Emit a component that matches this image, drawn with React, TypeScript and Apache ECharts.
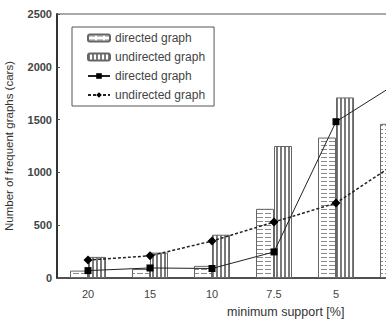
import React, { useEffect, useRef } from "react";
import * as echarts from "echarts";

const categories = ["20", "15", "10", "7.5", "5", "2.5"];
const directedBars = [70, 85, 115, 655, 1330, 1460];
const undirectedBars = [200, 240, 410, 1250, 1710, null];
const directedLine = [70, 95, 90, 247, 1480, 1850];
const undirectedLine = [170, 210, 350, 530, 710, 1100];
const yMin = 0;
const yMax = 2500;
const yStep = 500;
const xAxisTitle = "minimum support [%]";
const yAxisTitle = "Number of frequent graphs (cars)";
const visibleLabels = 5;

function makePattern(kind: "h" | "v") {
  const c = document.createElement("canvas");
  const ctx = c.getContext("2d")!;
  if (kind === "h") {
    c.width = 8;
    c.height = 4;
    ctx.fillStyle = "#ffffff";
    ctx.fillRect(0, 0, 8, 4);
    ctx.fillStyle = "#8a8a8a";
    ctx.fillRect(1, 1, 6, 1);
  } else {
    c.width = 4;
    c.height = 4;
    ctx.fillStyle = "#ffffff";
    ctx.fillRect(0, 0, 4, 4);
    ctx.fillStyle = "#7a7a7a";
    ctx.fillRect(0, 0, 2, 4);
  }
  return { image: c, repeat: "repeat" as const };
}

export default function App() {
  const ref = useRef<HTMLDivElement>(null);
  useEffect(() => {
    if (!ref.current) return;
    const chart = echarts.init(ref.current, undefined, { renderer: "svg" });
    const font = "Liberation Sans";
    const option: any = {
      animation: false,
      backgroundColor: "#ffffff",
      textStyle: { fontFamily: font },
      grid: {
        left: 57,
        top: 14,
        width: 372,
        bottom: 44,
        outerBoundsMode: "none",
        containLabel: false,
        show: true,
        borderColor: "#555",
        borderWidth: 1,
      },
      legend: {
        orient: "vertical",
        left: 72,
        top: 27,
        padding: [5, 9, 5, 15],
        itemGap: 7,
        itemWidth: 22,
        itemHeight: 7,
        borderColor: "#555",
        borderWidth: 1,
        backgroundColor: "#fff",
        textStyle: { fontFamily: font, fontSize: 12, color: "#444" },
        formatter: (n: string) => n.trim(),
        data: ["directed graph", "undirected graph", "directed graph ", "undirected graph "],
      },
      xAxis: {
        type: "category",
        data: categories,
        axisLine: { lineStyle: { color: "#333", width: 1.5 } },
        axisTick: { inside: true, length: 3, lineStyle: { color: "#555" } },
        axisLabel: {
          margin: 10,
          fontSize: 11,
          color: "#444",
          fontFamily: font,
          formatter: (v: string, i: number) => (i < visibleLabels ? v : ""),
        },
      },
      yAxis: {
        type: "value",
        min: yMin,
        max: yMax,
        interval: yStep,
        name: yAxisTitle,
        nameLocation: "middle",
        nameGap: 42,
        nameTextStyle: { fontSize: 11.5, color: "#333", fontFamily: font },
        splitLine: { show: false },
        axisLine: { show: true, lineStyle: { color: "#333", width: 2 } },
        axisTick: { show: true, inside: true, length: 3, lineStyle: { color: "#555" } },
        axisLabel: {
          margin: 5,
          fontSize: 11,
          color: "#444",
          fontWeight: "bold",
          fontFamily: font,
          formatter: (v: number) => String(v),
        },
      },
      graphic: [
        {
          type: "text",
          left: 227,
          top: 305,
          style: { text: xAxisTitle, fontSize: 12.5, fill: "#333", fontFamily: font },
        },
      ],
      series: [
        {
          name: "directed graph",
          type: "bar",
          data: directedBars,
          barWidth: 18,
          barGap: "0%",
          itemStyle: { color: makePattern("h"), borderColor: "#666", borderWidth: 1 },
        },
        {
          name: "undirected graph",
          type: "bar",
          data: undirectedBars,
          barWidth: 18,
          barGap: "0%",
          itemStyle: { color: makePattern("v"), borderColor: "#666", borderWidth: 1 },
        },
        {
          name: "directed graph ",
          type: "line",
          data: directedLine,
          symbol: "rect",
          symbolSize: 7,
          z: 5,
          lineStyle: { color: "#222", width: 1 },
          itemStyle: { color: "#000" },
        },
        {
          name: "undirected graph ",
          type: "line",
          data: undirectedLine,
          symbol: "diamond",
          symbolSize: 9,
          z: 5,
          lineStyle: { color: "#222", width: 1.5, type: [3, 2] },
          itemStyle: { color: "#000" },
        },
      ],
    };
    chart.setOption(option);
    return () => chart.dispose();
  }, []);
  return (
    <div
      ref={ref}
      style={{ position: "fixed", left: 0, top: 0, width: 386, height: 322, background: "#fff" }}
    />
  );
}
